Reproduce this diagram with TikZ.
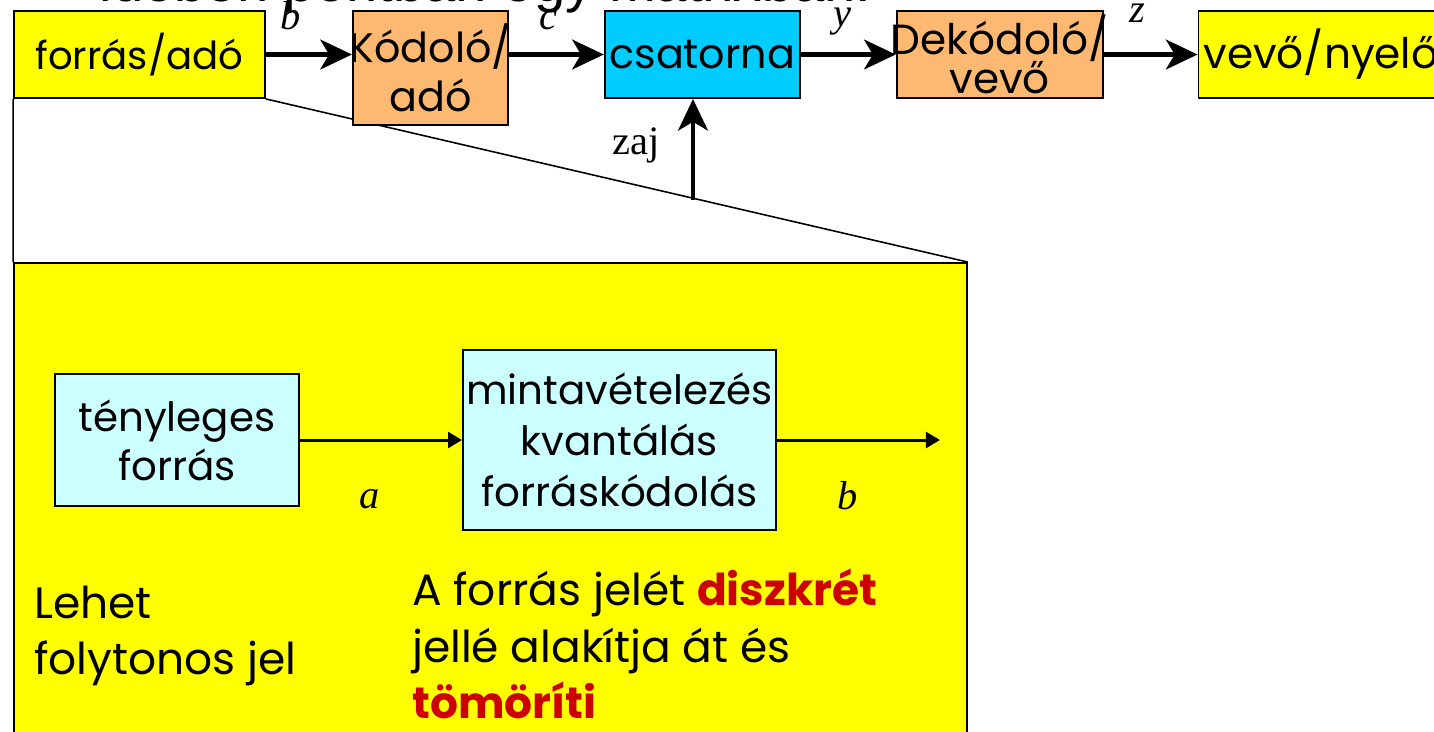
\documentclass[tikz,border=0pt]{standalone}
\usepackage{fontspec}
\setmainfont{Poppins}
\newfontfamily\serifface{Liberation Serif}
\newfontfamily\titleface{Liberation Sans}
\usepackage{xcolor}
\usetikzlibrary{arrows.meta, positioning, backgrounds}

\definecolor{srcyellow}{HTML}{FFFF00}
\definecolor{encorange}{HTML}{FDB971}
\definecolor{chancyan}{HTML}{00CCFF}
\definecolor{palecyan}{HTML}{CCFFFF}
\definecolor{alertred}{HTML}{CC0000}

\newcommand{\wide}[1]{\makebox[0pt]{#1}}

\begin{document}
\begin{tikzpicture}[
  x=0.02cm, y=-0.02cm,
  block/.style={draw, line width=1.1pt, inner sep=0pt, align=center,
    font=\fontsize{22}{27}\selectfont},
  flow/.style={-{Stealth[length=18pt, width=17pt, inset=5pt]}, line width=2.3pt},
  feed/.style={-{Triangle[length=8pt, width=9pt]}, line width=1.7pt},
  sym/.style={font=\serifface\itshape\fontsize{23}{23}\selectfont},
  note/.style={align=left, font=\fontsize{25}{32}\selectfont}
]
\useasboundingbox (0,0) rectangle (1434,731);
\clip (0,0) rectangle (1434,731);

\node[anchor=base east, inner sep=0pt, font=\titleface\fontsize{32}{32}\selectfont] (title) at (872,1) {időben pontban egy mátrixban.};

% top chain
\node[block, fill=srcyellow, minimum width=5.02cm, minimum height=1.74cm] (src) at (139.5,54.5) {forrás/adó};
\node[block, fill=encorange, minimum width=3.1cm, minimum height=2.28cm,
  right=1.72cm of src.north east, anchor=north west,
  font=\fontsize{23.5}{28}\selectfont] (enc) {\wide{Kódoló/}\\\wide{adó}};
\node[block, fill=chancyan, minimum width=3.9cm, minimum height=1.74cm,
  right=1.90cm of enc.north east, anchor=north west,
  font=\fontsize{23.5}{28}\selectfont] (chan) {csatorna};
\node[block, fill=encorange, minimum width=4.12cm, minimum height=1.74cm,
  right=1.90cm of chan.north east, anchor=north west,
  font=\fontsize{24}{20}\selectfont] (dec) {\wide{Dekódoló/}\\[-1pt]\wide{vevő}};
\node[block, fill=srcyellow, minimum width=5.3cm, minimum height=1.74cm,
  right=1.88cm of dec.north east, anchor=north west,
  text width=5.1cm, align=left, font=\fontsize{24}{28}\selectfont] (sink) {vevő/nyelő};

\draw[flow] (src) -- (enc.west |- src);
\draw[flow] (enc.east |- src) -- (chan);
\draw[flow] (chan) -- (dec);
\draw[flow] (dec) -- (sink);

\node[sym] (lblb) at (291,16) {b};
\node[sym] (lblc) at (548,20) {c};
\node[sym] (lbly) at (842,22) {y};
\node[sym] (lblz) at (1137,13) {z};

% noise
\coordinate (noise) at (693,200);
\draw[flow] (noise) -- (chan.south -| noise);
\node[font=\serifface\fontsize{23}{23}\selectfont] (zaj) at (636,145) {zaj};

% zoomed source
\node[draw, fill=srcyellow, line width=1.1pt, inner sep=0pt,
  minimum width=19.06cm, minimum height=9.94cm] (zoom) at (490.5,511.5) {};
\begin{scope}[on background layer]
\draw[line width=0.9pt] (src.south west) -- (zoom.north west);
\draw[line width=0.9pt] (src.south east) -- (zoom.north east);
\end{scope}

\node[block, fill=palecyan, minimum width=4.88cm, minimum height=2.64cm,
  font=\fontsize{23}{28}\selectfont] (real) at (177,440) {tényleges\\forrás};
\node[block, fill=palecyan, minimum width=6.26cm, minimum height=3.6cm,
  font=\fontsize{23}{29}\selectfont] (samp) at (619.5,440) {mintavételezés\\kvantálás\\forráskódolás};
\coordinate (out) at (940,440);
\draw[feed] (real) -- (samp);
\draw[feed] (samp) -- (out);
\node[sym] (lbla) at (370,499) {a};
\node[sym] (lblbb) at (848,496) {b};

\node[note, anchor=north west] (cont) at (28,580) {Lehet\\folytonos jel};
\node[note, anchor=north west] (effect) at (406,563) {A forrás jelét \textcolor{alertred}{\bfseries diszkrét}\\jellé alakítja át és\\\textcolor{alertred}{\bfseries tömöríti}};
\end{tikzpicture}
\end{document}
